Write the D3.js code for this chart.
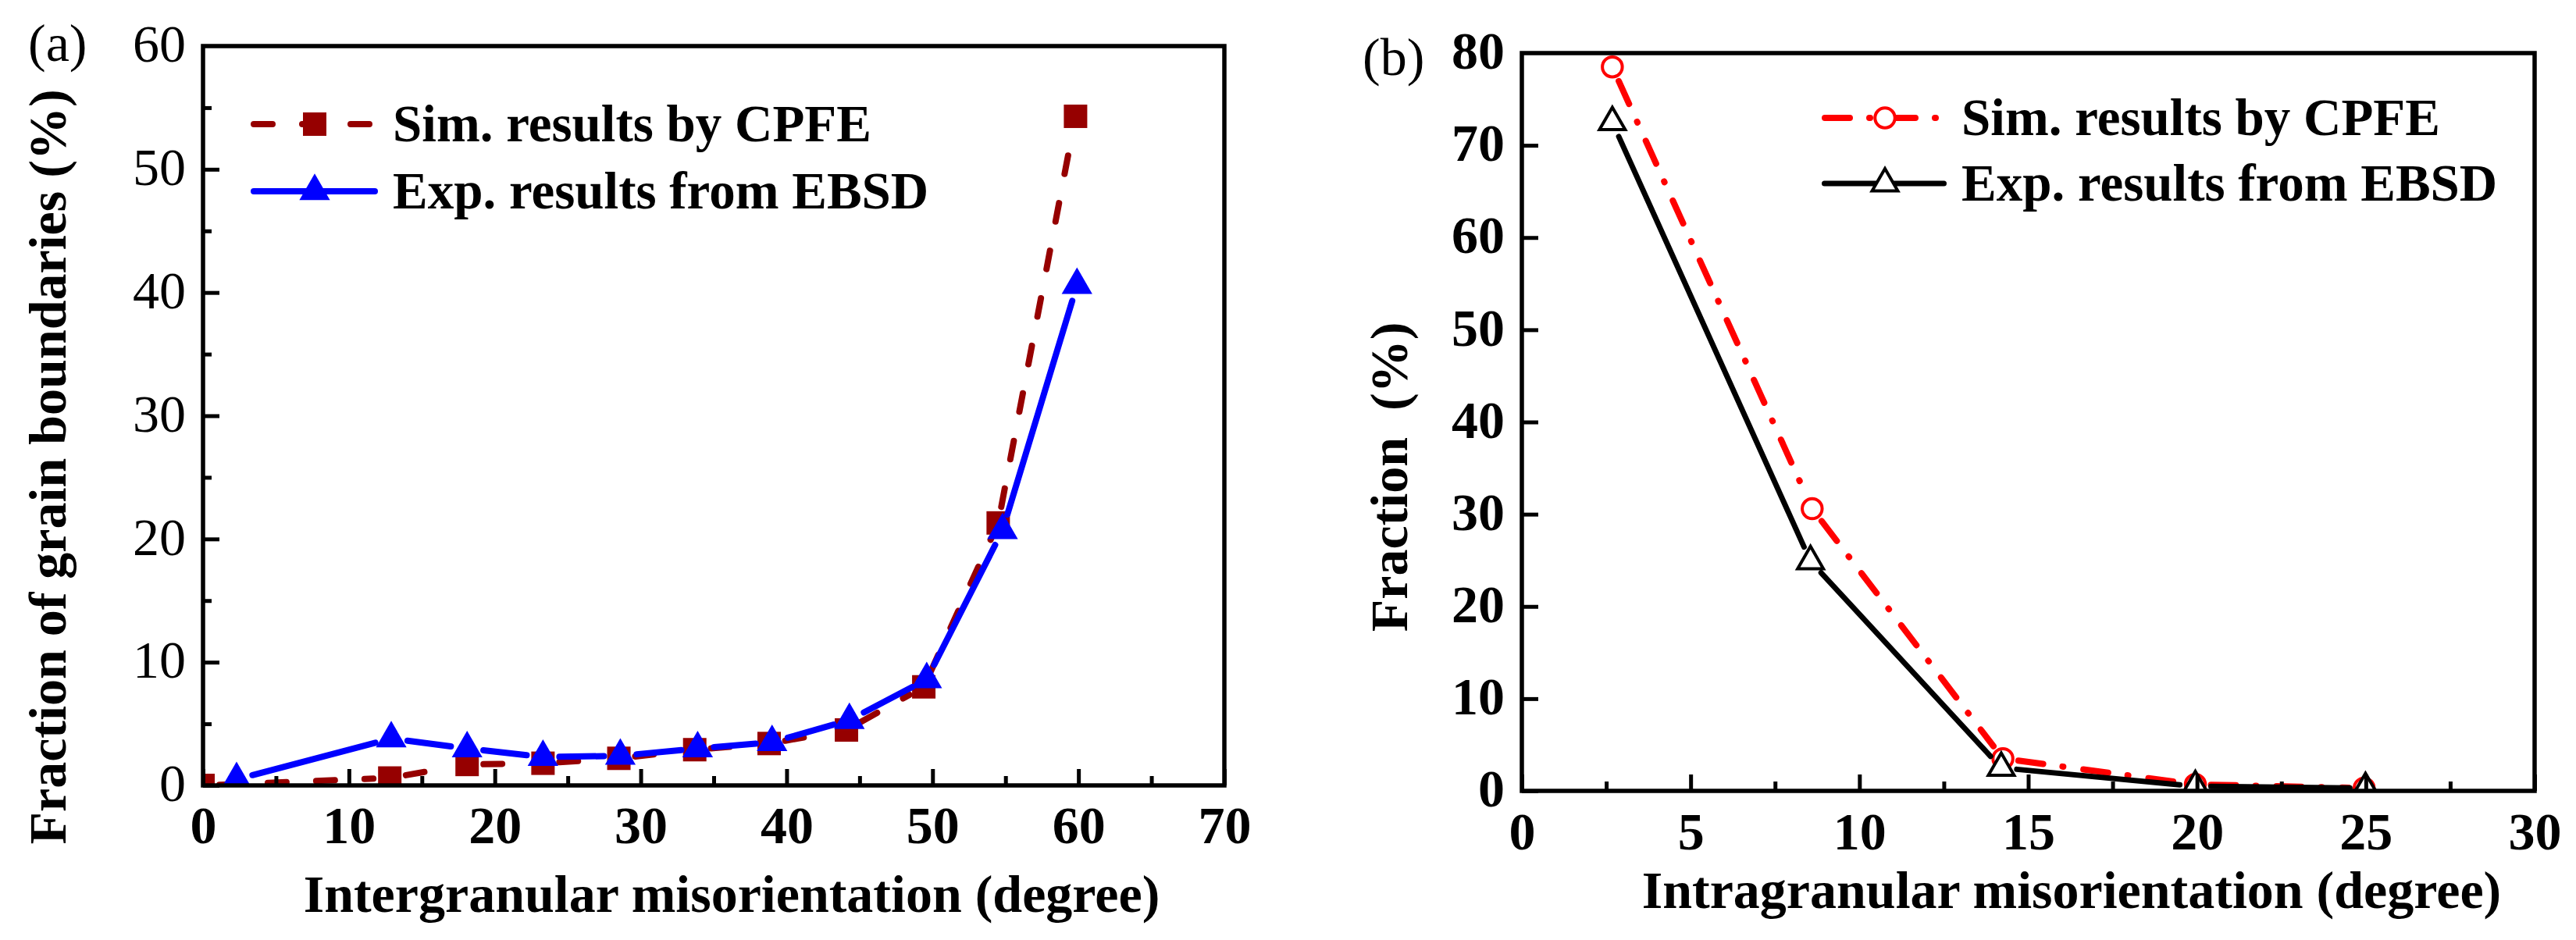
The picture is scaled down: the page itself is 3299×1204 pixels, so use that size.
<!DOCTYPE html>
<html>
<head>
<meta charset="utf-8">
<script src="https://cdn.jsdelivr.net/npm/d3@7"></script>
<style>
  body { margin: 0; background: #fff; }
  text { font-family: "Liberation Serif", "Times New Roman", serif; fill: #000; }
</style>
</head>
<body>
<svg id="chart" width="3299" height="1204"></svg>
<script>
// (a) intergranular misorientation
const interSimX = [0, 12.8, 18.1, 23.3, 28.5, 33.7, 38.8, 44.1, 49.4, 54.5, 59.8];
const interSimY = [0, 0.6, 1.7, 1.8, 2.2, 2.9, 3.4, 4.5, 8.0, 21.3, 54.3];
const interExpX = [2.3, 12.9, 18.1, 23.3, 28.6, 33.9, 39.0, 44.3, 49.6, 54.8, 59.9];
const interExpY = [0.5, 3.8, 3.0, 2.3, 2.4, 3.0, 3.5, 5.3, 8.6, 20.7, 40.6];
const interXTicks = [0, 10, 20, 30, 40, 50, 60, 70];
const interYTicks = [0, 10, 20, 30, 40, 50, 60];

// (b) intragranular misorientation
const intraSimX = [2.68, 8.6, 14.25, 19.95, 24.95];
const intraSimY = [78.5, 30.6, 3.5, 0.7, 0.3];
const intraExpX = [2.68, 8.55, 14.2, 19.95, 24.99];
const intraExpY = [72.5, 24.9, 2.5, 0.5, 0.3];
const intraXTicks = [0, 5, 10, 15, 20, 25, 30];
const intraYTicks = [0, 10, 20, 30, 40, 50, 60, 70, 80];

const legendLabels = ["Sim. results by CPFE", "Exp. results from EBSD"];

const svg = d3.select("#chart");
const FS = 68;

const midpoints = (t) => d3.pairs(t).map(([a, b]) => (a + b) / 2);

// line split into segments with a gap at each symbol, then symbols on top
function drawSeries(g, xs, ys, x, y, s) {
  const pts = xs.map((v, i) => [x(v), y(ys[i])]);
  const segs = d3.pairs(pts).map(([p, q]) => {
    const dx = q[0] - p[0], dy = q[1] - p[1];
    const L = Math.hypot(dx, dy), ux = dx / L, uy = dy / L;
    return [[p[0] + ux * s.gap, p[1] + uy * s.gap], [q[0] - ux * s.gap, q[1] - uy * s.gap]];
  }).filter((d) => (d[1][0] - d[0][0]) * (d[1][0] - d[0][0]) + (d[1][1] - d[0][1]) * (d[1][1] - d[0][1]) > 1);
  g.append("g").selectAll("path").data(segs).join("path")
    .attr("d", d3.line())
    .attr("fill", "none")
    .attr("stroke", s.color)
    .attr("stroke-width", s.width)
    .attr("stroke-linecap", "round")
    .attr("stroke-dasharray", s.dash);
  g.append("g").selectAll("path").data(pts).join("path")
    .attr("transform", (d) => `translate(${d})`)
    .attr("d", d3.symbol(s.symbol, s.size))
    .attr("fill", s.fill)
    .attr("stroke", s.stroke)
    .attr("stroke-width", s.strokeWidth)
    .attr("stroke-linejoin", "miter");
}

function legendRow(g, cx, cy, x0, x1, tx, s, label) {
  g.append("path")
    .attr("d", d3.line()([[x0 + s.width / 2, cy], [x1 - s.width / 2, cy]]))
    .attr("fill", "none")
    .attr("stroke", s.color)
    .attr("stroke-width", s.width)
    .attr("stroke-linecap", "round")
    .attr("stroke-dasharray", s.dash);
  g.append("path")
    .attr("transform", `translate(${cx},${cy})`)
    .attr("d", d3.symbol(s.symbol, s.size))
    .attr("fill", s.fill)
    .attr("stroke", s.stroke)
    .attr("stroke-width", s.strokeWidth);
  g.append("text")
    .attr("x", tx)
    .attr("y", cy + 22)
    .attr("font-size", 67)
    .attr("font-weight", "bold")
    .text(label);
}

function panel(o) {
  const x = d3.scaleLinear().domain(o.xDomain).range([o.left, o.right]);
  const y = d3.scaleLinear().domain(o.yDomain).range([o.bottom, o.top]);
  const g = svg.append("g");
  const clipId = "clip-" + o.id;
  g.append("clipPath").attr("id", clipId)
    .append("rect")
    .attr("x", o.left).attr("y", o.top)
    .attr("width", o.right - o.left).attr("height", o.bottom - o.top);

  const plot = g.append("g").attr("clip-path", `url(#${clipId})`);
  o.series.forEach((s) => drawSeries(plot, s.xs, s.ys, x, y, s));

  // x axis, ticks pointing inward
  const xa = g.append("g").attr("transform", `translate(0,${o.bottom})`);
  xa.append("g")
    .call(d3.axisBottom(x).tickValues(midpoints(o.xTicks)).tickSize(-12).tickFormat(""));
  xa.append("g")
    .call(d3.axisBottom(x).tickValues(o.xTicks).tickSize(-21).tickPadding(0).tickFormat(d3.format("d")));
  xa.selectAll(".domain").remove();
  xa.selectAll("line").attr("stroke", "#000").attr("stroke-width", 5);
  xa.selectAll("text")
    .attr("y", o.xLabelOffset).attr("dy", 0)
    .attr("font-size", FS).attr("font-weight", "bold")
    .attr("font-family", null).attr("fill", "#000");

  // y axis
  const ya = g.append("g").attr("transform", `translate(${o.left},0)`);
  if (o.yMinor) {
    ya.append("g")
      .call(d3.axisLeft(y).tickValues(midpoints(o.yTicks)).tickSize(-11).tickFormat(""));
  }
  ya.append("g")
    .call(d3.axisLeft(y).tickValues(o.yTicks).tickSize(-21).tickPadding(0).tickFormat(d3.format("d")));
  ya.selectAll(".domain").remove();
  ya.selectAll("line").attr("stroke", "#000").attr("stroke-width", 5);
  ya.selectAll("text")
    .attr("x", -22).attr("dy", "0.29em")
    .attr("font-size", FS).attr("font-weight", o.yLabelWeight)
    .attr("font-family", null).attr("fill", "#000");
  ya.selectAll(".tick").filter((d) => d === o.yDomain[1]).select("line").remove();

  // frame
  g.append("rect")
    .attr("x", o.left).attr("y", o.top)
    .attr("width", o.right - o.left).attr("height", o.bottom - o.top)
    .attr("fill", "none").attr("stroke", "#000").attr("stroke-width", 5.5);

  // titles
  g.append("text")
    .attr("x", o.xTitle[0]).attr("y", o.xTitle[1])
    .attr("text-anchor", "middle")
    .attr("font-size", FS).attr("font-weight", "bold")
    .text(o.xTitleText);
  g.append("text")
    .attr("transform", `translate(${o.yTitle[0]},${o.yTitle[1]}) rotate(-90)`)
    .attr("text-anchor", "middle")
    .attr("xml:space", "preserve")
    .style("white-space", "pre")
    .attr("font-size", FS).attr("font-weight", "bold")
    .text(o.yTitleText);
  g.append("text")
    .attr("x", o.tag[0]).attr("y", o.tag[1])
    .attr("font-size", FS)
    .text(o.tagText);

  // legend
  const lg = g.append("g");
  o.series.forEach((s, i) => {
    legendRow(lg, o.legend.cx, o.legend.rows[i], o.legend.x0, o.legend.x1, o.legend.tx, s, legendLabels[i]);
  });
}

panel({
  id: "a",
  left: 260, right: 1568, top: 59, bottom: 1006,
  xDomain: [0, 70], yDomain: [0, 60],
  xTicks: interXTicks, yTicks: interYTicks, yMinor: true,
  xLabelOffset: 74, yLabelWeight: "normal",
  xTitle: [937, 1168], xTitleText: "Intergranular misorientation (degree)",
  yTitle: [84, 598], yTitleText: "Fraction of grain boundaries (%)",
  tag: [36, 78], tagText: "(a)",
  legend: { x0: 321, x1: 484, cx: 403, tx: 503, rows: [159, 245] },
  series: [
    { xs: interSimX, ys: interSimY, color: "#960000", width: 8, dash: "24,38", gap: 21,
      symbol: d3.symbolSquare, size: 900, fill: "#960000", stroke: "none", strokeWidth: 0 },
    { xs: interExpX, ys: interExpY, color: "#0000ff", width: 8, dash: null, gap: 21,
      symbol: d3.symbolTriangle, size: 667, fill: "#0000ff", stroke: "none", strokeWidth: 0 }
  ]
});

panel({
  id: "b",
  left: 1949, right: 3246, top: 68, bottom: 1013,
  xDomain: [0, 30], yDomain: [0, 80],
  xTicks: intraXTicks, yTicks: intraYTicks, yMinor: false,
  xLabelOffset: 75, yLabelWeight: "bold",
  xTitle: [2653, 1163], xTitleText: "Intragranular misorientation (degree)",
  yTitle: [1802, 611], yTitleText: "Fraction  (%)",
  tag: [1745, 96], tagText: "(b)",
  legend: { x0: 2333, x1: 2493, cx: 2414, tx: 2512, rows: [151, 235] },
  series: [
    { xs: intraSimX, ys: intraSimY, color: "#ff0000", width: 8, dash: "32,25,1,26", gap: 20,
      symbol: d3.symbolCircle, size: 510, fill: "#fff", stroke: "#ff0000", strokeWidth: 4 },
    { xs: intraExpX, ys: intraExpY, color: "#000", width: 7, dash: null, gap: 20,
      symbol: d3.symbolTriangle, size: 470, fill: "#fff", stroke: "#000", strokeWidth: 4 }
  ]
});
</script>
</body>
</html>
